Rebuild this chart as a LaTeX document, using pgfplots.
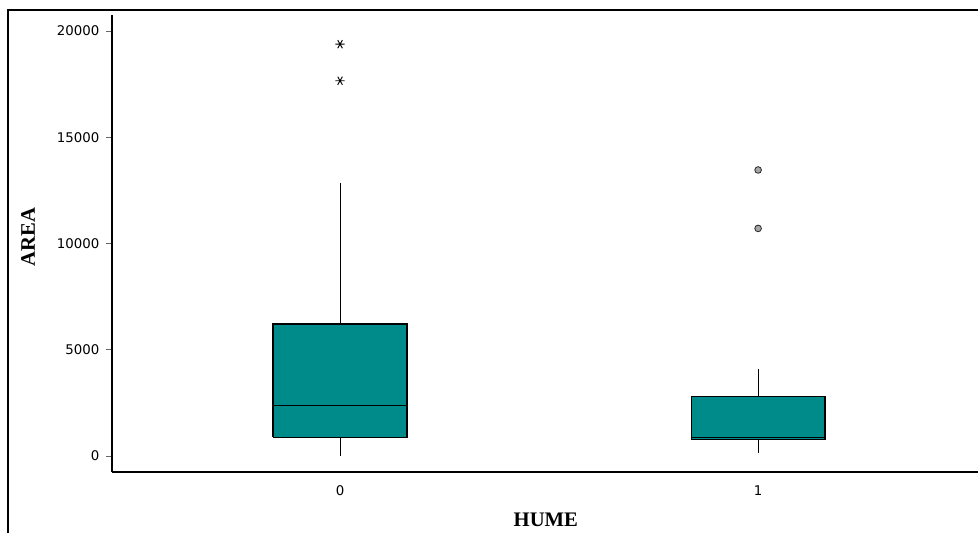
\documentclass[border=0pt]{standalone}
\usepackage{pgfplots}
\pgfplotsset{compat=1.18}
\usepackage{fontspec}
\setmainfont{DejaVu Sans}
\newfontfamily\serifb{Liberation Serif}
\definecolor{boxteal}{RGB}{0,139,139}
\begin{document}
\begin{tikzpicture}
\path[use as bounding box] (0pt,0pt) rectangle (733.5pt,399.75pt);
\draw[line width=0.8pt] (6pt,0pt) -- (6pt,392.25pt) -- (733.5pt,392.25pt);
\begin{axis}[
  at={(84pt,45.75pt)}, anchor=south west,
  width=649.5pt, height=342.75pt, scale only axis,
  xmin=-0.5455, xmax=1.526, ymin=-753, ymax=20753,
  axis x line*=bottom, axis y line*=left,
  axis line style={line width=1pt,-},
  xtick={0,1}, xticklabels={0,1},
  xtick style={draw=none},
  ytick={0,5000,10000,15000,20000},
  tick align=outside, major tick length=4.5pt,
  ytick style={black!60, line width=0.6pt},
  scaled y ticks=false,
  /pgf/number format/1000 sep={},
  /pgf/number format/assume math mode=true,
  ticklabel style={font=\fontsize{10}{12}\selectfont},
  yticklabel style={xshift=-1.5pt},
  xticklabel style={yshift=-2.5pt},
  xlabel={HUME}, ylabel={AREA},
  xlabel style={at={(axis description cs:0.501,-0.105)}, anchor=center, font=\serifb\bfseries\fontsize{15.5}{18}\selectfont},
  ylabel style={at={(axis description cs:-0.097,0.514)}, anchor=center, font=\serifb\bfseries\fontsize{15.5}{18}\selectfont},
  clip=false,
]
% group 0
\addplot[black, line width=0.8pt] coordinates {(0,0) (0,880)};
\addplot[black, line width=0.8pt] coordinates {(0,6210) (0,12850)};
\addplot[draw=black, fill=boxteal, line width=1pt] coordinates {(-0.16,880) (0.16,880) (0.16,6210) (-0.16,6210) (-0.16,880)};
\addplot[black, line width=0.8pt] coordinates {(-0.16,2370) (0.16,2370)};
\addplot[only marks, mark=asterisk, mark size=3.5pt, mark options={rotate=90, black, line width=0.7pt}] coordinates {(0,19380) (0,17660)};
% group 1
\addplot[black, line width=0.8pt] coordinates {(1,157) (1,784)};
\addplot[black, line width=0.8pt] coordinates {(1,2792) (1,4094)};
\addplot[draw=black, fill=boxteal, line width=1pt] coordinates {(0.84,784) (1.16,784) (1.16,2792) (0.84,2792) (0.84,784)};
\addplot[black, line width=0.8pt] coordinates {(0.84,880) (1.16,880)};
\addplot[only marks, mark=*, mark size=2.5pt, mark options={fill=black!35, draw=black!85, line width=0.6pt}] coordinates {(1,13460) (1,10710)};
\end{axis}
\end{tikzpicture}
\end{document}
